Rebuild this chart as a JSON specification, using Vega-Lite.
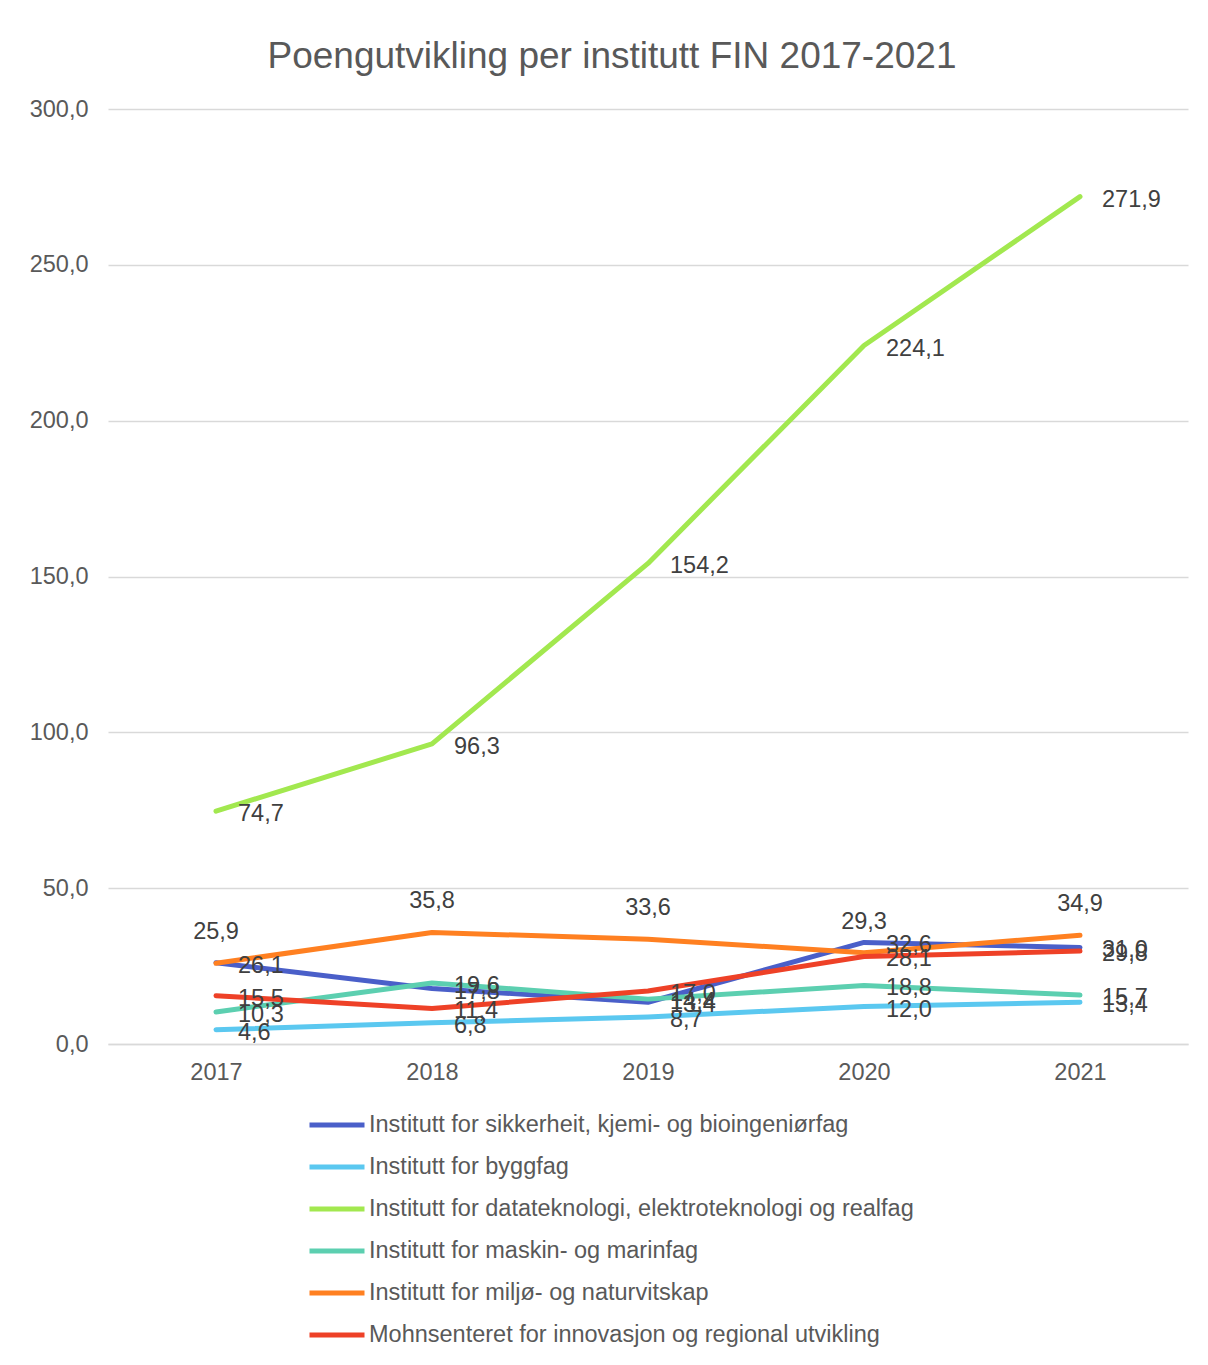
{
  "$schema": "https://vega.github.io/schema/vega-lite/v6.json",
  "width": 1080,
  "height": 935,
  "autosize": {"type": "none"},
  "padding": {"left": 108, "top": 109, "right": 20, "bottom": 321},
  "background": "white",
  "title": {
    "text": "Poengutvikling per institutt FIN 2017-2021",
    "font": "Liberation Sans",
    "fontSize": 37,
    "fontWeight": "normal",
    "color": "#595959",
    "anchor": "middle",
    "dx": -36,
    "offset": 21
  },
  "data": {
    "values": [
      {"inst": "Institutt for sikkerheit, kjemi- og bioingeniørfag", "year": "2017", "value": 26.1},
      {"inst": "Institutt for sikkerheit, kjemi- og bioingeniørfag", "year": "2018", "value": 17.8},
      {"inst": "Institutt for sikkerheit, kjemi- og bioingeniørfag", "year": "2019", "value": 13.4},
      {"inst": "Institutt for sikkerheit, kjemi- og bioingeniørfag", "year": "2020", "value": 32.6},
      {"inst": "Institutt for sikkerheit, kjemi- og bioingeniørfag", "year": "2021", "value": 31.0},
      {"inst": "Institutt for byggfag", "year": "2017", "value": 4.6},
      {"inst": "Institutt for byggfag", "year": "2018", "value": 6.8},
      {"inst": "Institutt for byggfag", "year": "2019", "value": 8.7},
      {"inst": "Institutt for byggfag", "year": "2020", "value": 12.0},
      {"inst": "Institutt for byggfag", "year": "2021", "value": 13.4},
      {"inst": "Institutt for datateknologi, elektroteknologi og realfag", "year": "2017", "value": 74.7},
      {"inst": "Institutt for datateknologi, elektroteknologi og realfag", "year": "2018", "value": 96.3},
      {"inst": "Institutt for datateknologi, elektroteknologi og realfag", "year": "2019", "value": 154.2},
      {"inst": "Institutt for datateknologi, elektroteknologi og realfag", "year": "2020", "value": 224.1},
      {"inst": "Institutt for datateknologi, elektroteknologi og realfag", "year": "2021", "value": 271.9},
      {"inst": "Institutt for maskin- og marinfag", "year": "2017", "value": 10.3},
      {"inst": "Institutt for maskin- og marinfag", "year": "2018", "value": 19.6},
      {"inst": "Institutt for maskin- og marinfag", "year": "2019", "value": 14.4},
      {"inst": "Institutt for maskin- og marinfag", "year": "2020", "value": 18.8},
      {"inst": "Institutt for maskin- og marinfag", "year": "2021", "value": 15.7},
      {"inst": "Institutt for miljø- og naturvitskap", "year": "2017", "value": 25.9},
      {"inst": "Institutt for miljø- og naturvitskap", "year": "2018", "value": 35.8},
      {"inst": "Institutt for miljø- og naturvitskap", "year": "2019", "value": 33.6},
      {"inst": "Institutt for miljø- og naturvitskap", "year": "2020", "value": 29.3},
      {"inst": "Institutt for miljø- og naturvitskap", "year": "2021", "value": 34.9},
      {"inst": "Mohnsenteret for innovasjon og regional utvikling", "year": "2017", "value": 15.5},
      {"inst": "Mohnsenteret for innovasjon og regional utvikling", "year": "2018", "value": 11.4},
      {"inst": "Mohnsenteret for innovasjon og regional utvikling", "year": "2019", "value": 17.0},
      {"inst": "Mohnsenteret for innovasjon og regional utvikling", "year": "2020", "value": 28.1},
      {"inst": "Mohnsenteret for innovasjon og regional utvikling", "year": "2021", "value": 29.8}
    ]
  },
  "encoding": {
    "x": {
      "field": "year", "type": "ordinal",
      "scale": {"type": "point", "padding": 0.5},
      "axis": {
        "title": null, "labelAngle": 0, "ticks": false,
        "domainColor": "#D9D9D9", "domainWidth": 1.5,
        "labelFont": "Liberation Sans", "labelFontSize": 23.5, "labelColor": "#595959",
        "labelPadding": 16, "grid": false
      }
    },
    "y": {
      "field": "value", "type": "quantitative",
      "scale": {"domain": [0, 300], "nice": false},
      "axis": {
        "title": null, "values": [0, 50, 100, 150, 200, 250, 300],
        "labelExpr": "replace(format(datum.value, '.1f'), '.', ',')",
        "ticks": false, "domain": false,
        "gridColor": "#D9D9D9", "gridWidth": 1.5,
        "labelFont": "Liberation Sans", "labelFontSize": 23.5, "labelColor": "#595959",
        "labelPadding": 20
      }
    }
  },
  "layer": [
    {
      "mark": {"type": "line", "strokeWidth": 5, "strokeCap": "round", "strokeJoin": "round"},
      "encoding": {
        "color": {
          "field": "inst", "type": "nominal",
          "scale": {
            "domain": [
              "Institutt for sikkerheit, kjemi- og bioingeniørfag",
              "Institutt for byggfag",
              "Institutt for datateknologi, elektroteknologi og realfag",
              "Institutt for maskin- og marinfag",
              "Institutt for miljø- og naturvitskap",
              "Mohnsenteret for innovasjon og regional utvikling"
            ],
            "range": ["#4A5FC9", "#5BC8F0", "#A2E84F", "#5CCFB0", "#FF8021", "#EE4127"]
          },
          "legend": {
            "title": null,
            "orient": "none",
            "legendX": 199,
            "legendY": 986,
            "direction": "vertical",
            "symbolType": "stroke",
            "symbolSize": 3025,
            "symbolStrokeWidth": 5,
            "labelFont": "Liberation Sans",
            "labelFontSize": 23.5,
            "labelColor": "#595959",
            "labelOffset": 2,
            "rowPadding": -10.3,
            "labelLimit": 800
          }
        }
      }
    },
    {
      "transform": [{"filter": "datum.inst !== 'Institutt for miljø- og naturvitskap'"}],
      "mark": {"type": "text", "align": "left", "baseline": "middle", "dx": 22, "dy": 3, "font": "Liberation Sans", "fontSize": 23.5, "color": "#404040"},
      "encoding": {
        "text": {"field": "value", "type": "quantitative", "format": ".1f", "formatType": "number"}
      }
    },
    {
      "transform": [{"filter": "datum.inst === 'Institutt for miljø- og naturvitskap'"}],
      "mark": {"type": "text", "align": "center", "baseline": "middle", "dy": -31, "font": "Liberation Sans", "fontSize": 23.5, "color": "#404040"},
      "encoding": {
        "text": {"field": "value", "type": "quantitative", "format": ".1f"}
      }
    }
  ],
  "config": {
    "view": {"stroke": null},
    "locale": {"number": {"decimal": ",", "thousands": " ", "grouping": [3], "currency": ["", " kr"]}}
  }
}
